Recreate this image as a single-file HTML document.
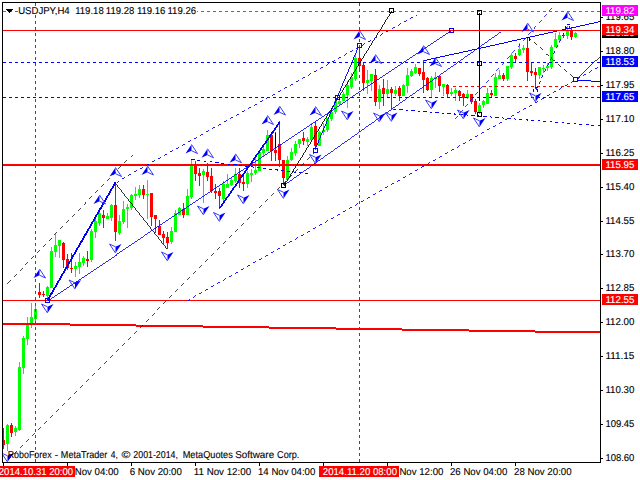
<!DOCTYPE html>
<html><head><meta charset="utf-8"><title>USDJPY,H4</title>
<style>
html,body{margin:0;padding:0;background:#fff;}
body{width:640px;height:480px;overflow:hidden;position:relative;}
svg{position:absolute;left:0;top:0;display:block;}
text{font-family:"Liberation Sans",sans-serif;font-size:10.0px;stroke-width:0.12px;paint-order:stroke;text-rendering:geometricPrecision;}
</style></head><body>
<svg width="640" height="480" viewBox="0 0 640 480" shape-rendering="crispEdges">
<rect x="0" y="0" width="640" height="480" fill="#FFFFFF"/>
<clipPath id="plot"><rect x="3" y="3" width="597" height="459"/></clipPath>
<g clip-path="url(#plot)">
<rect x="3" y="428" width="1" height="21" fill="#FF0000"/>
<rect x="2" y="440" width="3" height="5" fill="#FF0000"/>
<rect x="7" y="424" width="1" height="27" fill="#00FF00"/>
<rect x="6" y="425" width="3" height="19" fill="#00FF00"/>
<rect x="11" y="423" width="1" height="14" fill="#FF0000"/>
<rect x="10" y="425" width="3" height="8" fill="#FF0000"/>
<rect x="15" y="426" width="1" height="10" fill="#00FF00"/>
<rect x="14" y="428" width="3" height="4" fill="#00FF00"/>
<rect x="19" y="362" width="1" height="69" fill="#00FF00"/>
<rect x="18" y="367" width="3" height="63" fill="#00FF00"/>
<rect x="23" y="336" width="1" height="38" fill="#00FF00"/>
<rect x="22" y="338" width="3" height="30" fill="#00FF00"/>
<rect x="27" y="317" width="1" height="28" fill="#00FF00"/>
<rect x="26" y="324" width="3" height="15" fill="#00FF00"/>
<rect x="31" y="303" width="1" height="25" fill="#00FF00"/>
<rect x="30" y="317" width="3" height="8" fill="#00FF00"/>
<rect x="35" y="304" width="1" height="17" fill="#00FF00"/>
<rect x="34" y="309" width="3" height="10" fill="#00FF00"/>
<rect x="39" y="283" width="1" height="15" fill="#FF0000"/>
<rect x="38" y="292" width="3" height="3" fill="#FF0000"/>
<rect x="43" y="291" width="1" height="6" fill="#FF0000"/>
<rect x="42" y="294" width="3" height="1" fill="#FF0000"/>
<rect x="47" y="286" width="1" height="15" fill="#00FF00"/>
<rect x="46" y="287" width="3" height="9" fill="#00FF00"/>
<rect x="51" y="247" width="1" height="41" fill="#00FF00"/>
<rect x="50" y="251" width="3" height="37" fill="#00FF00"/>
<rect x="55" y="234" width="1" height="23" fill="#00FF00"/>
<rect x="54" y="245" width="3" height="7" fill="#00FF00"/>
<rect x="59" y="240" width="1" height="18" fill="#00FF00"/>
<rect x="58" y="240" width="3" height="6" fill="#00FF00"/>
<rect x="63" y="242" width="1" height="26" fill="#FF0000"/>
<rect x="62" y="243" width="3" height="17" fill="#FF0000"/>
<rect x="67" y="254" width="1" height="16" fill="#FF0000"/>
<rect x="66" y="259" width="3" height="9" fill="#FF0000"/>
<rect x="71" y="253" width="1" height="20" fill="#FF0000"/>
<rect x="70" y="268" width="3" height="1" fill="#FF0000"/>
<rect x="75" y="262" width="1" height="15" fill="#00FF00"/>
<rect x="74" y="266" width="3" height="3" fill="#00FF00"/>
<rect x="79" y="253" width="1" height="21" fill="#00FF00"/>
<rect x="78" y="262" width="3" height="5" fill="#00FF00"/>
<rect x="83" y="256" width="1" height="10" fill="#00FF00"/>
<rect x="82" y="258" width="3" height="5" fill="#00FF00"/>
<rect x="87" y="251" width="1" height="16" fill="#FF0000"/>
<rect x="86" y="259" width="3" height="2" fill="#FF0000"/>
<rect x="91" y="229" width="1" height="33" fill="#00FF00"/>
<rect x="90" y="231" width="3" height="29" fill="#00FF00"/>
<rect x="95" y="219" width="1" height="19" fill="#00FF00"/>
<rect x="94" y="221" width="3" height="11" fill="#00FF00"/>
<rect x="99" y="210" width="1" height="16" fill="#00FF00"/>
<rect x="98" y="213" width="3" height="10" fill="#00FF00"/>
<rect x="103" y="210" width="1" height="18" fill="#FF0000"/>
<rect x="102" y="215" width="3" height="3" fill="#FF0000"/>
<rect x="107" y="213" width="1" height="6" fill="#00FF00"/>
<rect x="106" y="216" width="3" height="3" fill="#00FF00"/>
<rect x="111" y="204" width="1" height="17" fill="#00FF00"/>
<rect x="110" y="205" width="3" height="13" fill="#00FF00"/>
<rect x="115" y="182" width="1" height="59" fill="#FF0000"/>
<rect x="114" y="205" width="3" height="27" fill="#FF0000"/>
<rect x="119" y="215" width="1" height="20" fill="#00FF00"/>
<rect x="118" y="221" width="3" height="12" fill="#00FF00"/>
<rect x="123" y="201" width="1" height="23" fill="#00FF00"/>
<rect x="122" y="209" width="3" height="13" fill="#00FF00"/>
<rect x="127" y="204" width="1" height="24" fill="#00FF00"/>
<rect x="126" y="207" width="3" height="2" fill="#00FF00"/>
<rect x="131" y="194" width="1" height="16" fill="#00FF00"/>
<rect x="130" y="195" width="3" height="13" fill="#00FF00"/>
<rect x="135" y="187" width="1" height="13" fill="#00FF00"/>
<rect x="134" y="194" width="3" height="2" fill="#00FF00"/>
<rect x="139" y="185" width="1" height="13" fill="#00FF00"/>
<rect x="138" y="189" width="3" height="6" fill="#00FF00"/>
<rect x="143" y="185" width="1" height="14" fill="#FF0000"/>
<rect x="142" y="189" width="3" height="6" fill="#FF0000"/>
<rect x="147" y="180" width="1" height="39" fill="#00FF00"/>
<rect x="146" y="194" width="3" height="1" fill="#00FF00"/>
<rect x="151" y="193" width="1" height="33" fill="#FF0000"/>
<rect x="150" y="193" width="3" height="24" fill="#FF0000"/>
<rect x="155" y="215" width="1" height="18" fill="#FF0000"/>
<rect x="154" y="215" width="3" height="4" fill="#FF0000"/>
<rect x="159" y="220" width="1" height="15" fill="#FF0000"/>
<rect x="158" y="226" width="3" height="9" fill="#FF0000"/>
<rect x="163" y="231" width="1" height="13" fill="#FF0000"/>
<rect x="162" y="234" width="3" height="4" fill="#FF0000"/>
<rect x="167" y="232" width="1" height="17" fill="#FF0000"/>
<rect x="166" y="237" width="3" height="6" fill="#FF0000"/>
<rect x="171" y="227" width="1" height="17" fill="#00FF00"/>
<rect x="170" y="231" width="3" height="11" fill="#00FF00"/>
<rect x="175" y="210" width="1" height="22" fill="#00FF00"/>
<rect x="174" y="213" width="3" height="19" fill="#00FF00"/>
<rect x="179" y="207" width="1" height="8" fill="#00FF00"/>
<rect x="178" y="208" width="3" height="7" fill="#00FF00"/>
<rect x="183" y="203" width="1" height="15" fill="#FF0000"/>
<rect x="182" y="209" width="3" height="6" fill="#FF0000"/>
<rect x="187" y="189" width="1" height="26" fill="#00FF00"/>
<rect x="186" y="196" width="3" height="19" fill="#00FF00"/>
<rect x="191" y="159" width="1" height="40" fill="#00FF00"/>
<rect x="190" y="166" width="3" height="31" fill="#00FF00"/>
<rect x="195" y="161" width="1" height="20" fill="#FF0000"/>
<rect x="194" y="165" width="3" height="9" fill="#FF0000"/>
<rect x="199" y="168" width="1" height="18" fill="#FF0000"/>
<rect x="198" y="173" width="3" height="3" fill="#FF0000"/>
<rect x="203" y="169" width="1" height="34" fill="#00FF00"/>
<rect x="202" y="171" width="3" height="4" fill="#00FF00"/>
<rect x="207" y="163" width="1" height="18" fill="#FF0000"/>
<rect x="206" y="172" width="3" height="5" fill="#FF0000"/>
<rect x="211" y="168" width="1" height="25" fill="#FF0000"/>
<rect x="210" y="176" width="3" height="15" fill="#FF0000"/>
<rect x="215" y="184" width="1" height="15" fill="#FF0000"/>
<rect x="214" y="191" width="3" height="2" fill="#FF0000"/>
<rect x="219" y="188" width="1" height="21" fill="#FF0000"/>
<rect x="218" y="191" width="3" height="5" fill="#FF0000"/>
<rect x="223" y="181" width="1" height="22" fill="#00FF00"/>
<rect x="222" y="184" width="3" height="15" fill="#00FF00"/>
<rect x="227" y="174" width="1" height="14" fill="#00FF00"/>
<rect x="226" y="184" width="3" height="4" fill="#00FF00"/>
<rect x="231" y="177" width="1" height="9" fill="#00FF00"/>
<rect x="230" y="180" width="3" height="5" fill="#00FF00"/>
<rect x="235" y="168" width="1" height="15" fill="#00FF00"/>
<rect x="234" y="174" width="3" height="7" fill="#00FF00"/>
<rect x="239" y="168" width="1" height="20" fill="#FF0000"/>
<rect x="238" y="174" width="3" height="9" fill="#FF0000"/>
<rect x="243" y="176" width="1" height="15" fill="#FF0000"/>
<rect x="242" y="182" width="3" height="2" fill="#FF0000"/>
<rect x="247" y="171" width="1" height="17" fill="#00FF00"/>
<rect x="246" y="173" width="3" height="11" fill="#00FF00"/>
<rect x="251" y="169" width="1" height="13" fill="#00FF00"/>
<rect x="250" y="173" width="3" height="2" fill="#00FF00"/>
<rect x="255" y="155" width="1" height="20" fill="#00FF00"/>
<rect x="254" y="170" width="3" height="3" fill="#00FF00"/>
<rect x="259" y="150" width="1" height="21" fill="#00FF00"/>
<rect x="258" y="152" width="3" height="19" fill="#00FF00"/>
<rect x="263" y="147" width="1" height="9" fill="#00FF00"/>
<rect x="262" y="149" width="3" height="4" fill="#00FF00"/>
<rect x="267" y="130" width="1" height="21" fill="#00FF00"/>
<rect x="266" y="135" width="3" height="16" fill="#00FF00"/>
<rect x="271" y="132" width="1" height="29" fill="#FF0000"/>
<rect x="270" y="135" width="3" height="16" fill="#FF0000"/>
<rect x="275" y="132" width="1" height="29" fill="#FF0000"/>
<rect x="274" y="150" width="3" height="3" fill="#FF0000"/>
<rect x="279" y="121" width="1" height="46" fill="#FF0000"/>
<rect x="278" y="144" width="3" height="16" fill="#FF0000"/>
<rect x="283" y="160" width="1" height="25" fill="#FF0000"/>
<rect x="282" y="160" width="3" height="18" fill="#FF0000"/>
<rect x="287" y="156" width="1" height="24" fill="#00FF00"/>
<rect x="286" y="160" width="3" height="20" fill="#00FF00"/>
<rect x="291" y="148" width="1" height="13" fill="#00FF00"/>
<rect x="290" y="152" width="3" height="8" fill="#00FF00"/>
<rect x="295" y="141" width="1" height="15" fill="#00FF00"/>
<rect x="294" y="144" width="3" height="9" fill="#00FF00"/>
<rect x="299" y="139" width="1" height="9" fill="#00FF00"/>
<rect x="298" y="139" width="3" height="5" fill="#00FF00"/>
<rect x="303" y="132" width="1" height="13" fill="#FF0000"/>
<rect x="302" y="138" width="3" height="3" fill="#FF0000"/>
<rect x="307" y="137" width="1" height="9" fill="#00FF00"/>
<rect x="306" y="139" width="3" height="3" fill="#00FF00"/>
<rect x="311" y="123" width="1" height="17" fill="#00FF00"/>
<rect x="310" y="127" width="3" height="13" fill="#00FF00"/>
<rect x="315" y="121" width="1" height="29" fill="#FF0000"/>
<rect x="314" y="126" width="3" height="20" fill="#FF0000"/>
<rect x="319" y="131" width="1" height="15" fill="#00FF00"/>
<rect x="318" y="132" width="3" height="14" fill="#00FF00"/>
<rect x="323" y="123" width="1" height="12" fill="#00FF00"/>
<rect x="322" y="130" width="3" height="2" fill="#00FF00"/>
<rect x="327" y="118" width="1" height="14" fill="#00FF00"/>
<rect x="326" y="118" width="3" height="12" fill="#00FF00"/>
<rect x="331" y="108" width="1" height="13" fill="#00FF00"/>
<rect x="330" y="112" width="3" height="7" fill="#00FF00"/>
<rect x="335" y="98" width="1" height="16" fill="#00FF00"/>
<rect x="334" y="101" width="3" height="11" fill="#00FF00"/>
<rect x="339" y="100" width="1" height="5" fill="#00FF00"/>
<rect x="338" y="101" width="3" height="3" fill="#00FF00"/>
<rect x="343" y="92" width="1" height="9" fill="#00FF00"/>
<rect x="342" y="94" width="3" height="7" fill="#00FF00"/>
<rect x="347" y="81" width="1" height="27" fill="#00FF00"/>
<rect x="346" y="85" width="3" height="10" fill="#00FF00"/>
<rect x="351" y="73" width="1" height="16" fill="#00FF00"/>
<rect x="350" y="77" width="3" height="10" fill="#00FF00"/>
<rect x="355" y="55" width="1" height="26" fill="#00FF00"/>
<rect x="354" y="58" width="3" height="21" fill="#00FF00"/>
<rect x="359" y="46" width="1" height="24" fill="#FF0000"/>
<rect x="358" y="58" width="3" height="8" fill="#FF0000"/>
<rect x="363" y="63" width="1" height="28" fill="#FF0000"/>
<rect x="362" y="65" width="3" height="18" fill="#FF0000"/>
<rect x="367" y="70" width="1" height="24" fill="#00FF00"/>
<rect x="366" y="80" width="3" height="3" fill="#00FF00"/>
<rect x="371" y="74" width="1" height="17" fill="#00FF00"/>
<rect x="370" y="74" width="3" height="7" fill="#00FF00"/>
<rect x="375" y="69" width="1" height="37" fill="#FF0000"/>
<rect x="374" y="75" width="3" height="27" fill="#FF0000"/>
<rect x="379" y="85" width="1" height="24" fill="#00FF00"/>
<rect x="378" y="89" width="3" height="13" fill="#00FF00"/>
<rect x="383" y="79" width="1" height="27" fill="#FF0000"/>
<rect x="382" y="88" width="3" height="6" fill="#FF0000"/>
<rect x="387" y="80" width="1" height="18" fill="#00FF00"/>
<rect x="386" y="89" width="3" height="5" fill="#00FF00"/>
<rect x="391" y="87" width="1" height="22" fill="#FF0000"/>
<rect x="390" y="89" width="3" height="4" fill="#FF0000"/>
<rect x="395" y="86" width="1" height="10" fill="#00FF00"/>
<rect x="394" y="90" width="3" height="4" fill="#00FF00"/>
<rect x="399" y="86" width="1" height="15" fill="#FF0000"/>
<rect x="398" y="88" width="3" height="8" fill="#FF0000"/>
<rect x="403" y="84" width="1" height="12" fill="#00FF00"/>
<rect x="402" y="85" width="3" height="11" fill="#00FF00"/>
<rect x="407" y="68" width="1" height="25" fill="#00FF00"/>
<rect x="406" y="75" width="3" height="11" fill="#00FF00"/>
<rect x="411" y="69" width="1" height="8" fill="#00FF00"/>
<rect x="410" y="71" width="3" height="5" fill="#00FF00"/>
<rect x="415" y="64" width="1" height="10" fill="#00FF00"/>
<rect x="414" y="67" width="3" height="6" fill="#00FF00"/>
<rect x="419" y="68" width="1" height="8" fill="#FF0000"/>
<rect x="418" y="68" width="3" height="6" fill="#FF0000"/>
<rect x="423" y="60" width="1" height="33" fill="#FF0000"/>
<rect x="422" y="72" width="3" height="8" fill="#FF0000"/>
<rect x="427" y="77" width="1" height="14" fill="#FF0000"/>
<rect x="426" y="78" width="3" height="12" fill="#FF0000"/>
<rect x="431" y="76" width="1" height="21" fill="#00FF00"/>
<rect x="430" y="78" width="3" height="12" fill="#00FF00"/>
<rect x="435" y="72" width="1" height="16" fill="#00FF00"/>
<rect x="434" y="77" width="3" height="2" fill="#00FF00"/>
<rect x="439" y="76" width="1" height="16" fill="#FF0000"/>
<rect x="438" y="76" width="3" height="10" fill="#FF0000"/>
<rect x="443" y="84" width="1" height="12" fill="#00FF00"/>
<rect x="442" y="84" width="3" height="3" fill="#00FF00"/>
<rect x="447" y="84" width="1" height="14" fill="#FF0000"/>
<rect x="446" y="85" width="3" height="9" fill="#FF0000"/>
<rect x="451" y="88" width="1" height="8" fill="#00FF00"/>
<rect x="450" y="92" width="3" height="2" fill="#00FF00"/>
<rect x="455" y="88" width="1" height="13" fill="#00FF00"/>
<rect x="454" y="90" width="3" height="3" fill="#00FF00"/>
<rect x="459" y="90" width="1" height="11" fill="#FF0000"/>
<rect x="458" y="91" width="3" height="5" fill="#FF0000"/>
<rect x="463" y="93" width="1" height="13" fill="#FF0000"/>
<rect x="462" y="94" width="3" height="4" fill="#FF0000"/>
<rect x="467" y="90" width="1" height="9" fill="#00FF00"/>
<rect x="466" y="94" width="3" height="4" fill="#00FF00"/>
<rect x="471" y="94" width="1" height="10" fill="#FF0000"/>
<rect x="470" y="94" width="3" height="8" fill="#FF0000"/>
<rect x="475" y="99" width="1" height="15" fill="#FF0000"/>
<rect x="474" y="101" width="3" height="11" fill="#FF0000"/>
<rect x="479" y="103" width="1" height="11" fill="#00FF00"/>
<rect x="478" y="105" width="3" height="7" fill="#00FF00"/>
<rect x="483" y="100" width="1" height="8" fill="#00FF00"/>
<rect x="482" y="101" width="3" height="4" fill="#00FF00"/>
<rect x="487" y="88" width="1" height="16" fill="#00FF00"/>
<rect x="486" y="93" width="3" height="11" fill="#00FF00"/>
<rect x="491" y="90" width="1" height="7" fill="#FF0000"/>
<rect x="490" y="93" width="3" height="2" fill="#FF0000"/>
<rect x="495" y="73" width="1" height="23" fill="#00FF00"/>
<rect x="494" y="77" width="3" height="19" fill="#00FF00"/>
<rect x="499" y="70" width="1" height="9" fill="#00FF00"/>
<rect x="498" y="75" width="3" height="4" fill="#00FF00"/>
<rect x="503" y="73" width="1" height="8" fill="#FF0000"/>
<rect x="502" y="75" width="3" height="4" fill="#FF0000"/>
<rect x="507" y="66" width="1" height="15" fill="#00FF00"/>
<rect x="506" y="66" width="3" height="13" fill="#00FF00"/>
<rect x="511" y="53" width="1" height="16" fill="#00FF00"/>
<rect x="510" y="55" width="3" height="12" fill="#00FF00"/>
<rect x="515" y="53" width="1" height="10" fill="#FF0000"/>
<rect x="514" y="56" width="3" height="3" fill="#FF0000"/>
<rect x="519" y="43" width="1" height="13" fill="#00FF00"/>
<rect x="518" y="49" width="3" height="6" fill="#00FF00"/>
<rect x="523" y="45" width="1" height="8" fill="#00FF00"/>
<rect x="522" y="48" width="3" height="2" fill="#00FF00"/>
<rect x="527" y="38" width="1" height="43" fill="#FF0000"/>
<rect x="526" y="48" width="3" height="24" fill="#FF0000"/>
<rect x="531" y="62" width="1" height="14" fill="#FF0000"/>
<rect x="530" y="71" width="3" height="2" fill="#FF0000"/>
<rect x="535" y="68" width="1" height="21" fill="#FF0000"/>
<rect x="534" y="72" width="3" height="3" fill="#FF0000"/>
<rect x="539" y="67" width="1" height="12" fill="#00FF00"/>
<rect x="538" y="67" width="3" height="8" fill="#00FF00"/>
<rect x="543" y="65" width="1" height="8" fill="#00FF00"/>
<rect x="542" y="68" width="3" height="1" fill="#00FF00"/>
<rect x="547" y="63" width="1" height="8" fill="#00FF00"/>
<rect x="546" y="66" width="3" height="2" fill="#00FF00"/>
<rect x="551" y="45" width="1" height="24" fill="#00FF00"/>
<rect x="550" y="47" width="3" height="20" fill="#00FF00"/>
<rect x="555" y="33" width="1" height="14" fill="#00FF00"/>
<rect x="554" y="39" width="3" height="8" fill="#00FF00"/>
<rect x="559" y="32" width="1" height="11" fill="#00FF00"/>
<rect x="558" y="35" width="3" height="5" fill="#00FF00"/>
<rect x="563" y="33" width="1" height="5" fill="#FF0000"/>
<rect x="562" y="35" width="3" height="1" fill="#FF0000"/>
<rect x="567" y="26" width="1" height="13" fill="#00FF00"/>
<rect x="566" y="31" width="3" height="5" fill="#00FF00"/>
<rect x="571" y="28" width="1" height="12" fill="#FF0000"/>
<rect x="570" y="31" width="3" height="6" fill="#FF0000"/>
<rect x="575" y="32" width="1" height="6" fill="#00FF00"/>
<rect x="574" y="33" width="3" height="4" fill="#00FF00"/>
<rect x="3" y="323" width="67" height="2" fill="#FF0000"/>
<rect x="70" y="324" width="66" height="2" fill="#FF0000"/>
<rect x="136" y="325" width="67" height="2" fill="#FF0000"/>
<rect x="203" y="326" width="66" height="2" fill="#FF0000"/>
<rect x="269" y="327" width="67" height="2" fill="#FF0000"/>
<rect x="336" y="328" width="66" height="2" fill="#FF0000"/>
<rect x="402" y="329" width="67" height="2" fill="#FF0000"/>
<rect x="469" y="330" width="66" height="2" fill="#FF0000"/>
<rect x="535" y="331" width="65" height="2" fill="#FF0000"/>
<line x1="3" y1="11.5" x2="600" y2="11.5" stroke="#FF00FF" stroke-width="1" stroke-dasharray="3 3"/>
<line x1="3" y1="62.5" x2="600" y2="62.5" stroke="#0000FF" stroke-width="1" stroke-dasharray="3 3"/>
<line x1="3" y1="97.5" x2="600" y2="97.5" stroke="#0000FF" stroke-width="1" stroke-dasharray="3 3"/>
<line x1="453" y1="86.5" x2="600" y2="86.5" stroke="#FF0000" stroke-width="1" stroke-dasharray="3 3"/>
<rect x="3" y="164" width="597" height="2" fill="#FF0000"/>
<rect x="3" y="300" width="597" height="1" fill="#FF0000"/>
<line x1="35.5" y1="3" x2="35.5" y2="462" stroke="#FF0000" stroke-width="1" stroke-dasharray="3 3"/>
<line x1="359.5" y1="3" x2="359.5" y2="462" stroke="#FF0000" stroke-width="1" stroke-dasharray="3 3"/>
<line x1="47.5" y1="300.5" x2="115.5" y2="182.5" stroke="#0000FF" stroke-width="1.768"/>
<line x1="115.5" y1="182.5" x2="167.5" y2="248.5" stroke="#000000" stroke-width="0.801"/>
<line x1="47.5" y1="300.5" x2="451.5" y2="30.5" stroke="#0000FF" stroke-width="0.848"/>
<line x1="219.5" y1="208.5" x2="279.5" y2="122.5" stroke="#0000FF" stroke-width="1.673"/>
<line x1="283.5" y1="185.5" x2="391.5" y2="10.5" stroke="#000000" stroke-width="0.868"/>
<line x1="283.5" y1="185.0" x2="500.5" y2="31.5" stroke="#0000FF" stroke-width="0.833"/>
<line x1="315.5" y1="147.5" x2="358.2" y2="46.5" stroke="#0000FF" stroke-width="0.939"/>
<line x1="423.5" y1="60.5" x2="600.5" y2="21.5" stroke="#0000FF" stroke-width="0.996"/>
<line x1="479.5" y1="12.5" x2="479.5" y2="100.5" stroke="#000000" stroke-width="1.020"/>
<line x1="275.5" y1="132.5" x2="275.5" y2="147.5" stroke="#000000" stroke-width="1.020"/>
<line x1="527.5" y1="37.5" x2="573.5" y2="77.5" stroke="#000000" stroke-width="0.770" stroke-dasharray="3.98 3.98"/>
<line x1="577.5" y1="77.0" x2="600.5" y2="55.3" stroke="#000000" stroke-width="0.742"/>
<line x1="577.5" y1="80.0" x2="600.5" y2="81.7" stroke="#0000FF" stroke-width="1.017"/>
<line x1="535.5" y1="89.5" x2="567.5" y2="26.5" stroke="#0000FF" stroke-width="0.909" stroke-dasharray="3.36 3.36"/>
<line x1="454.5" y1="118.5" x2="553.5" y2="6.5" stroke="#0000FF" stroke-width="0.764" stroke-dasharray="4.00 4.00"/>
<line x1="1.5" y1="466.5" x2="313.5" y2="153.5" stroke="#000000" stroke-width="0.722" stroke-dasharray="4.24 4.24"/>
<line x1="7.5" y1="283.5" x2="132.5" y2="154.5" stroke="#000000" stroke-width="0.733" stroke-dasharray="4.18 4.18"/>
<line x1="116.5" y1="182.0" x2="416.5" y2="15.0" stroke="#0000FF" stroke-width="0.891" stroke-dasharray="3.43 3.43"/>
<line x1="187.5" y1="300.5" x2="600.5" y2="65.8" stroke="#0000FF" stroke-width="0.887" stroke-dasharray="3.45 3.45"/>
<line x1="191.5" y1="159.5" x2="308.5" y2="173.8" stroke="#0000FF" stroke-width="1.012" stroke-dasharray="3.02 3.02"/>
<line x1="393.5" y1="109.0" x2="600.5" y2="126.0" stroke="#0000FF" stroke-width="1.017" stroke-dasharray="3.01 3.01"/>
<rect x="3" y="30" width="597" height="1" fill="#FF0000"/>
<rect x="45.5" y="298.5" width="4" height="4" fill="none" stroke="#0000FF" stroke-width="1"/>
<rect x="313.5" y="148.5" width="4" height="4" fill="none" stroke="#0000FF" stroke-width="1"/>
<rect x="335.5" y="95.5" width="4" height="4" fill="none" stroke="#0000FF" stroke-width="1"/>
<rect x="357.5" y="43.5" width="4" height="4" fill="none" stroke="#0000FF" stroke-width="1"/>
<rect x="449.5" y="28.5" width="4" height="4" fill="none" stroke="#0000FF" stroke-width="1"/>
<rect x="573.5" y="77.5" width="4" height="4" fill="none" stroke="#0000FF" stroke-width="1"/>
<rect x="567" y="24" width="3" height="1" fill="#0000FF"/>
<rect x="565" y="26" width="1" height="3" fill="#0000FF"/>
<rect x="569" y="26" width="1" height="3" fill="#0000FF"/>
<rect x="535" y="87" width="3" height="1" fill="#0000FF"/>
<rect x="533" y="89" width="1" height="3" fill="#0000FF"/>
<rect x="537" y="89" width="1" height="3" fill="#0000FF"/>
<rect x="281.5" y="183.5" width="4" height="4" fill="none" stroke="#000000" stroke-width="1"/>
<rect x="389.5" y="8.5" width="4" height="4" fill="none" stroke="#000000" stroke-width="1"/>
<rect x="477.5" y="10.5" width="4" height="4" fill="none" stroke="#000000" stroke-width="1"/>
<rect x="477.5" y="61.5" width="4" height="4" fill="none" stroke="#000000" stroke-width="1"/>
<rect x="477.5" y="112.5" width="4" height="4" fill="none" stroke="#000000" stroke-width="1"/>
<polyline points="526.5,37.5 529.5,37.5 529.5,40.5" fill="none" stroke="#000000" stroke-width="1"/>
<g shape-rendering="auto"><polygon points="39.5,269 33.5,278 39.5,275.2" fill="#0000FF"/><polyline points="39.5,269 45.5,278 39.5,275.2" fill="none" stroke="#3838FF" stroke-width="1"/></g>
<g shape-rendering="auto"><polygon points="99.5,195 93.5,204 99.5,201.2" fill="#0000FF"/><polyline points="99.5,195 105.5,204 99.5,201.2" fill="none" stroke="#3838FF" stroke-width="1"/></g>
<g shape-rendering="auto"><polygon points="115.5,167.5 109.5,176.5 115.5,173.7" fill="#0000FF"/><polyline points="115.5,167.5 121.5,176.5 115.5,173.7" fill="none" stroke="#3838FF" stroke-width="1"/></g>
<g shape-rendering="auto"><polygon points="147.5,166 141.5,175 147.5,172.2" fill="#0000FF"/><polyline points="147.5,166 153.5,175 147.5,172.2" fill="none" stroke="#3838FF" stroke-width="1"/></g>
<g shape-rendering="auto"><polygon points="191.5,144.5 185.5,153.5 191.5,150.7" fill="#0000FF"/><polyline points="191.5,144.5 197.5,153.5 191.5,150.7" fill="none" stroke="#3838FF" stroke-width="1"/></g>
<g shape-rendering="auto"><polygon points="207.5,148.75 201.5,157.75 207.5,154.95" fill="#0000FF"/><polyline points="207.5,148.75 213.5,157.75 207.5,154.95" fill="none" stroke="#3838FF" stroke-width="1"/></g>
<g shape-rendering="auto"><polygon points="235.5,153.75 229.5,162.75 235.5,159.95" fill="#0000FF"/><polyline points="235.5,153.75 241.5,162.75 235.5,159.95" fill="none" stroke="#3838FF" stroke-width="1"/></g>
<g shape-rendering="auto"><polygon points="267.5,115.5 261.5,124.5 267.5,121.7" fill="#0000FF"/><polyline points="267.5,115.5 273.5,124.5 267.5,121.7" fill="none" stroke="#3838FF" stroke-width="1"/></g>
<g shape-rendering="auto"><polygon points="279.5,106 273.5,115 279.5,112.2" fill="#0000FF"/><polyline points="279.5,106 285.5,115 279.5,112.2" fill="none" stroke="#3838FF" stroke-width="1"/></g>
<g shape-rendering="auto"><polygon points="315.5,106.5 309.5,115.5 315.5,112.7" fill="#0000FF"/><polyline points="315.5,106.5 321.5,115.5 315.5,112.7" fill="none" stroke="#3838FF" stroke-width="1"/></g>
<g shape-rendering="auto"><polygon points="359.5,30.5 353.5,39.5 359.5,36.7" fill="#0000FF"/><polyline points="359.5,30.5 365.5,39.5 359.5,36.7" fill="none" stroke="#3838FF" stroke-width="1"/></g>
<g shape-rendering="auto"><polygon points="375.5,54.5 369.5,63.5 375.5,60.7" fill="#0000FF"/><polyline points="375.5,54.5 381.5,63.5 375.5,60.7" fill="none" stroke="#3838FF" stroke-width="1"/></g>
<g shape-rendering="auto"><polygon points="423.5,45.5 417.5,54.5 423.5,51.7" fill="#0000FF"/><polyline points="423.5,45.5 429.5,54.5 423.5,51.7" fill="none" stroke="#3838FF" stroke-width="1"/></g>
<g shape-rendering="auto"><polygon points="435.5,57.5 429.5,66.5 435.5,63.7" fill="#0000FF"/><polyline points="435.5,57.5 441.5,66.5 435.5,63.7" fill="none" stroke="#3838FF" stroke-width="1"/></g>
<g shape-rendering="auto"><polygon points="527.5,23 521.5,32 527.5,29.2" fill="#0000FF"/><polyline points="527.5,23 533.5,32 527.5,29.2" fill="none" stroke="#3838FF" stroke-width="1"/></g>
<g shape-rendering="auto"><polygon points="567.5,11.5 561.5,20.5 567.5,17.7" fill="#0000FF"/><polyline points="567.5,11.5 573.5,20.5 567.5,17.7" fill="none" stroke="#3838FF" stroke-width="1"/></g>
<g shape-rendering="auto"><polygon points="7.5,462 13.5,453 7.5,455.8" fill="#0000FF"/><polyline points="7.5,462 1.5,453 7.5,455.8" fill="none" stroke="#3838FF" stroke-width="1"/></g>
<g shape-rendering="auto"><polygon points="47.5,313 53.5,304 47.5,306.8" fill="#0000FF"/><polyline points="47.5,313 41.5,304 47.5,306.8" fill="none" stroke="#3838FF" stroke-width="1"/></g>
<g shape-rendering="auto"><polygon points="75,289 81,280 75,282.8" fill="#0000FF"/><polyline points="75,289 69,280 75,282.8" fill="none" stroke="#3838FF" stroke-width="1"/></g>
<g shape-rendering="auto"><polygon points="115.5,253 121.5,244 115.5,246.8" fill="#0000FF"/><polyline points="115.5,253 109.5,244 115.5,246.8" fill="none" stroke="#3838FF" stroke-width="1"/></g>
<g shape-rendering="auto"><polygon points="167.5,261 173.5,252 167.5,254.8" fill="#0000FF"/><polyline points="167.5,261 161.5,252 167.5,254.8" fill="none" stroke="#3838FF" stroke-width="1"/></g>
<g shape-rendering="auto"><polygon points="203.5,215 209.5,206 203.5,208.8" fill="#0000FF"/><polyline points="203.5,215 197.5,206 203.5,208.8" fill="none" stroke="#3838FF" stroke-width="1"/></g>
<g shape-rendering="auto"><polygon points="219.5,221.5 225.5,212.5 219.5,215.3" fill="#0000FF"/><polyline points="219.5,221.5 213.5,212.5 219.5,215.3" fill="none" stroke="#3838FF" stroke-width="1"/></g>
<g shape-rendering="auto"><polygon points="243.5,204 249.5,195 243.5,197.8" fill="#0000FF"/><polyline points="243.5,204 237.5,195 243.5,197.8" fill="none" stroke="#3838FF" stroke-width="1"/></g>
<g shape-rendering="auto"><polygon points="283.5,198.5 289.5,189.5 283.5,192.3" fill="#0000FF"/><polyline points="283.5,198.5 277.5,189.5 283.5,192.3" fill="none" stroke="#3838FF" stroke-width="1"/></g>
<g shape-rendering="auto"><polygon points="315.5,163.5 321.5,154.5 315.5,157.3" fill="#0000FF"/><polyline points="315.5,163.5 309.5,154.5 315.5,157.3" fill="none" stroke="#3838FF" stroke-width="1"/></g>
<g shape-rendering="auto"><polygon points="347.5,120 353.5,111 347.5,113.8" fill="#0000FF"/><polyline points="347.5,120 341.5,111 347.5,113.8" fill="none" stroke="#3838FF" stroke-width="1"/></g>
<g shape-rendering="auto"><polygon points="379.5,122 385.5,113 379.5,115.8" fill="#0000FF"/><polyline points="379.5,122 373.5,113 379.5,115.8" fill="none" stroke="#3838FF" stroke-width="1"/></g>
<g shape-rendering="auto"><polygon points="391.5,121.5 397.5,112.5 391.5,115.3" fill="#0000FF"/><polyline points="391.5,121.5 385.5,112.5 391.5,115.3" fill="none" stroke="#3838FF" stroke-width="1"/></g>
<g shape-rendering="auto"><polygon points="431.5,109 437.5,100 431.5,102.8" fill="#0000FF"/><polyline points="431.5,109 425.5,100 431.5,102.8" fill="none" stroke="#3838FF" stroke-width="1"/></g>
<g shape-rendering="auto"><polygon points="463.5,119 469.5,110 463.5,112.8" fill="#0000FF"/><polyline points="463.5,119 457.5,110 463.5,112.8" fill="none" stroke="#3838FF" stroke-width="1"/></g>
<g shape-rendering="auto"><polygon points="479.5,127 485.5,118 479.5,120.8" fill="#0000FF"/><polyline points="479.5,127 473.5,118 479.5,120.8" fill="none" stroke="#3838FF" stroke-width="1"/></g>
<g shape-rendering="auto"><polygon points="535.5,102 541.5,93 535.5,95.8" fill="#0000FF"/><polyline points="535.5,102 529.5,93 535.5,95.8" fill="none" stroke="#3838FF" stroke-width="1"/></g>
</g>
<g>
<rect x="18" y="6" width="179" height="9" fill="#FFFFFF"/>
<rect x="2" y="2" width="1" height="461" fill="#000000"/>
<rect x="2" y="2" width="599" height="1" fill="#000000"/>
<rect x="600" y="2" width="1" height="461" fill="#000000"/>
<rect x="2" y="462" width="599" height="1" fill="#000000"/>
<rect x="601" y="17" width="2" height="1" fill="#000000"/>
<text x="605.4" y="20" fill="#000000" stroke="#000000" textLength="29" lengthAdjust="spacingAndGlyphs">119.65</text>
<rect x="601" y="51" width="2" height="1" fill="#000000"/>
<text x="605.4" y="54" fill="#000000" stroke="#000000" textLength="29" lengthAdjust="spacingAndGlyphs">118.80</text>
<rect x="601" y="85" width="2" height="1" fill="#000000"/>
<text x="605.4" y="88" fill="#000000" stroke="#000000" textLength="29" lengthAdjust="spacingAndGlyphs">117.95</text>
<rect x="601" y="119" width="2" height="1" fill="#000000"/>
<text x="605.4" y="122" fill="#000000" stroke="#000000" textLength="29" lengthAdjust="spacingAndGlyphs">117.10</text>
<rect x="601" y="153" width="2" height="1" fill="#000000"/>
<text x="605.4" y="156" fill="#000000" stroke="#000000" textLength="29" lengthAdjust="spacingAndGlyphs">116.25</text>
<rect x="601" y="187" width="2" height="1" fill="#000000"/>
<text x="605.4" y="190" fill="#000000" stroke="#000000" textLength="29" lengthAdjust="spacingAndGlyphs">115.40</text>
<rect x="601" y="221" width="2" height="1" fill="#000000"/>
<text x="605.4" y="224" fill="#000000" stroke="#000000" textLength="29" lengthAdjust="spacingAndGlyphs">114.55</text>
<rect x="601" y="254" width="2" height="1" fill="#000000"/>
<text x="605.4" y="257" fill="#000000" stroke="#000000" textLength="29" lengthAdjust="spacingAndGlyphs">113.70</text>
<rect x="601" y="288" width="2" height="1" fill="#000000"/>
<text x="605.4" y="291" fill="#000000" stroke="#000000" textLength="29" lengthAdjust="spacingAndGlyphs">112.85</text>
<rect x="601" y="322" width="2" height="1" fill="#000000"/>
<text x="605.4" y="325" fill="#000000" stroke="#000000" textLength="29" lengthAdjust="spacingAndGlyphs">112.00</text>
<rect x="601" y="356" width="2" height="1" fill="#000000"/>
<text x="605.4" y="359" fill="#000000" stroke="#000000" textLength="29" lengthAdjust="spacingAndGlyphs">111.15</text>
<rect x="601" y="390" width="2" height="1" fill="#000000"/>
<text x="605.4" y="393" fill="#000000" stroke="#000000" textLength="29" lengthAdjust="spacingAndGlyphs">110.30</text>
<rect x="601" y="424" width="2" height="1" fill="#000000"/>
<text x="605.4" y="427" fill="#000000" stroke="#000000" textLength="29" lengthAdjust="spacingAndGlyphs">109.45</text>
<rect x="601" y="458" width="2" height="1" fill="#000000"/>
<text x="605.4" y="461" fill="#000000" stroke="#000000" textLength="29" lengthAdjust="spacingAndGlyphs">108.60</text>
<rect x="3" y="463" width="1" height="3" fill="#000000"/>
<rect x="67" y="463" width="1" height="3" fill="#000000"/>
<rect x="131" y="463" width="1" height="3" fill="#000000"/>
<rect x="195" y="463" width="1" height="3" fill="#000000"/>
<rect x="259" y="463" width="1" height="3" fill="#000000"/>
<rect x="323" y="463" width="1" height="3" fill="#000000"/>
<rect x="387" y="463" width="1" height="3" fill="#000000"/>
<rect x="451" y="463" width="1" height="3" fill="#000000"/>
<rect x="515" y="463" width="1" height="3" fill="#000000"/>
<text x="74.7" y="475" fill="#000000" stroke="#000000" textLength="44" lengthAdjust="spacingAndGlyphs">Nov 04:00</text>
<text x="129.7" y="475" fill="#000000" stroke="#000000" textLength="52.2" lengthAdjust="spacingAndGlyphs">6 Nov 20:00</text>
<text x="193.8" y="475" fill="#000000" stroke="#000000" textLength="57.3" lengthAdjust="spacingAndGlyphs">11 Nov 12:00</text>
<text x="258" y="475" fill="#000000" stroke="#000000" textLength="57.3" lengthAdjust="spacingAndGlyphs">14 Nov 04:00</text>
<text x="399.4" y="475" fill="#000000" stroke="#000000" textLength="44" lengthAdjust="spacingAndGlyphs">Nov 12:00</text>
<text x="450" y="475" fill="#000000" stroke="#000000" textLength="57.3" lengthAdjust="spacingAndGlyphs">26 Nov 04:00</text>
<text x="514" y="475" fill="#000000" stroke="#000000" textLength="57.6" lengthAdjust="spacingAndGlyphs">28 Nov 20:00</text>
<rect x="602" y="27" width="36" height="11" fill="#000000"/>
<text x="605.4" y="36" fill="#FFFFFF" stroke="#FFFFFF" textLength="29" lengthAdjust="spacingAndGlyphs">119.26</text>
<rect x="602" y="5" width="36" height="11" fill="#FF00FF"/>
<text x="605.4" y="14" fill="#FFFFFF" stroke="#FFFFFF" textLength="29" lengthAdjust="spacingAndGlyphs">119.82</text>
<rect x="602" y="24" width="36" height="11" fill="#FF0000"/>
<text x="605.4" y="33" fill="#FFFFFF" stroke="#FFFFFF" textLength="29" lengthAdjust="spacingAndGlyphs">119.34</text>
<rect x="602" y="56" width="36" height="11" fill="#0000FF"/>
<text x="605.4" y="65" fill="#FFFFFF" stroke="#FFFFFF" textLength="29" lengthAdjust="spacingAndGlyphs">118.53</text>
<rect x="602" y="91" width="36" height="11" fill="#0000FF"/>
<text x="605.4" y="100" fill="#FFFFFF" stroke="#FFFFFF" textLength="29" lengthAdjust="spacingAndGlyphs">117.65</text>
<rect x="602" y="159" width="36" height="11" fill="#FF0000"/>
<text x="605.4" y="168" fill="#FFFFFF" stroke="#FFFFFF" textLength="29" lengthAdjust="spacingAndGlyphs">115.95</text>
<rect x="602" y="294" width="36" height="11" fill="#FF0000"/>
<text x="605.4" y="303" fill="#FFFFFF" stroke="#FFFFFF" textLength="29" lengthAdjust="spacingAndGlyphs">112.55</text>
<rect x="0" y="466" width="75" height="11" fill="#FF0000"/>
<text x="-1.2" y="475" fill="#FFFFFF" stroke="#FFFFFF" textLength="74.2" lengthAdjust="spacingAndGlyphs">2014.10.31 20:00</text>
<rect x="319" y="466" width="80" height="11" fill="#FF0000"/>
<text x="322.8" y="475" fill="#FFFFFF" stroke="#FFFFFF" textLength="74.2" lengthAdjust="spacingAndGlyphs">2014.11.20 08:00</text>
<rect x="6" y="9" width="7" height="1" fill="#000000"/>
<rect x="7" y="10" width="5" height="1" fill="#000000"/>
<rect x="8" y="11" width="3" height="1" fill="#000000"/>
<rect x="9" y="12" width="1" height="1" fill="#000000"/>
<text x="18.2" y="14" fill="#000000" stroke="#000000" textLength="51.5" lengthAdjust="spacingAndGlyphs">USDJPY,H4</text>
<text x="75.2" y="14" fill="#000000" stroke="#000000" textLength="28.5" lengthAdjust="spacingAndGlyphs">119.18</text>
<text x="105.8" y="14" fill="#000000" stroke="#000000" textLength="28.5" lengthAdjust="spacingAndGlyphs">119.28</text>
<text x="136.9" y="14" fill="#000000" stroke="#000000" textLength="28.5" lengthAdjust="spacingAndGlyphs">119.16</text>
<text x="167.5" y="14" fill="#000000" stroke="#000000" textLength="28.5" lengthAdjust="spacingAndGlyphs">119.26</text>
<text x="7.7" y="458" fill="#000000" stroke="#000000" textLength="43.95" lengthAdjust="spacingAndGlyphs">RoboForex</text>
<text x="54.6" y="458" fill="#000000" stroke="#000000" textLength="3.8" lengthAdjust="spacingAndGlyphs">-</text>
<text x="60.85" y="458" fill="#000000" stroke="#000000" textLength="46.45" lengthAdjust="spacingAndGlyphs">MetaTrader</text>
<text x="110.85" y="458" fill="#000000" stroke="#000000" textLength="7.05" lengthAdjust="spacingAndGlyphs">4,</text>
<text x="121.5" y="458" fill="#000000" stroke="#000000" textLength="8.9" lengthAdjust="spacingAndGlyphs">©</text>
<text x="133.35" y="458" fill="#000000" stroke="#000000" textLength="44.55" lengthAdjust="spacingAndGlyphs">2001-2014,</text>
<text x="182.7" y="458" fill="#000000" stroke="#000000" textLength="50.1" lengthAdjust="spacingAndGlyphs">MetaQuotes</text>
<text x="235.2" y="458" fill="#000000" stroke="#000000" textLength="38.95" lengthAdjust="spacingAndGlyphs">Software</text>
<text x="277.1" y="458" fill="#000000" stroke="#000000" textLength="22.3" lengthAdjust="spacingAndGlyphs">Corp.</text>
</g>
</svg>
</body></html>
